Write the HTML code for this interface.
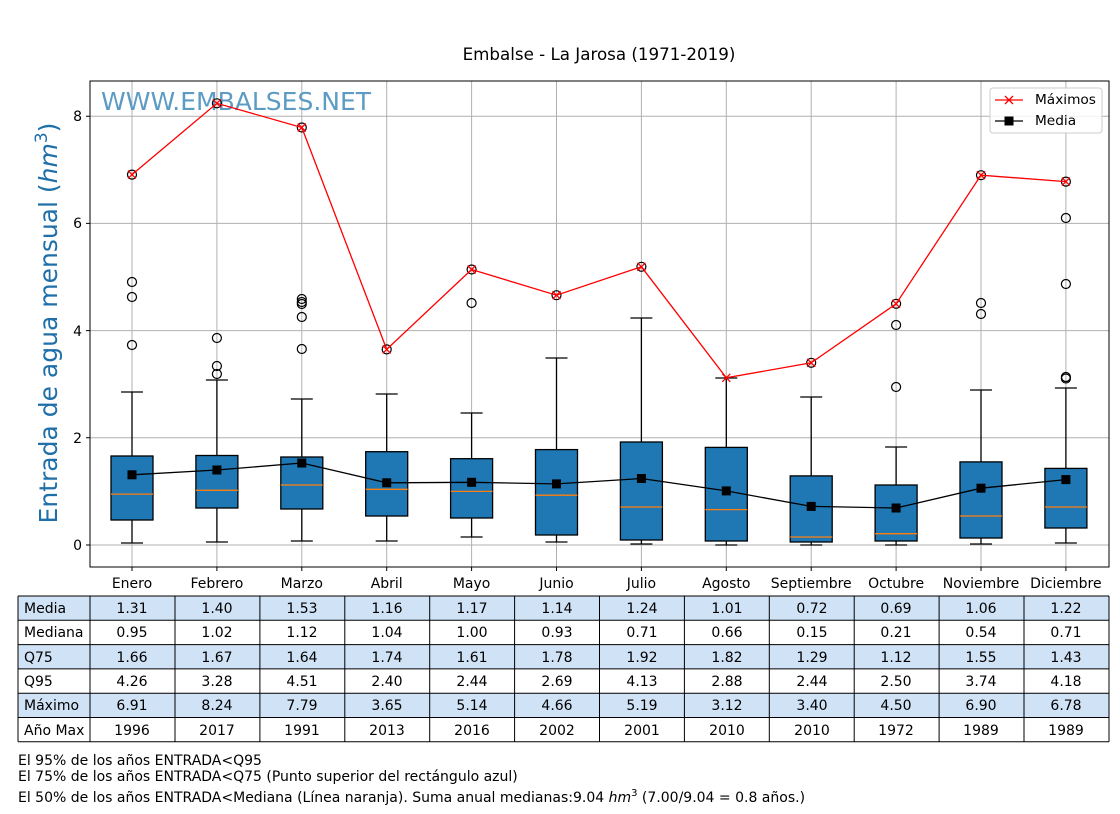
<!DOCTYPE html>
<html><head><meta charset="utf-8"><style>
body{margin:0;background:#fff;font-family:"DejaVu Sans","Liberation Sans",sans-serif;}
svg text{font-family:"DejaVu Sans","Liberation Sans",sans-serif;}
</style></head><body>
<svg width="1120" height="810" xmlns="http://www.w3.org/2000/svg">
<rect width="1120" height="810" fill="#fff"/>
<text x="599" y="60" font-size="16.7" text-anchor="middle">Embalse - La Jarosa (1971-2019)</text>
<g stroke="#b0b0b0" stroke-width="1">
<line x1="90" x2="1109" y1="545" y2="545"/><line x1="90" x2="1109" y1="437.8" y2="437.8"/><line x1="90" x2="1109" y1="330.6" y2="330.6"/><line x1="90" x2="1109" y1="223.4" y2="223.4"/><line x1="90" x2="1109" y1="116.2" y2="116.2"/>
<line x1="132" x2="132" y1="81" y2="567"/><line x1="216.9" x2="216.9" y1="81" y2="567"/><line x1="301.8" x2="301.8" y1="81" y2="567"/><line x1="386.7" x2="386.7" y1="81" y2="567"/><line x1="471.6" x2="471.6" y1="81" y2="567"/><line x1="556.5" x2="556.5" y1="81" y2="567"/><line x1="641.4" x2="641.4" y1="81" y2="567"/><line x1="726.3" x2="726.3" y1="81" y2="567"/><line x1="811.2" x2="811.2" y1="81" y2="567"/><line x1="896.1" x2="896.1" y1="81" y2="567"/><line x1="981" x2="981" y1="81" y2="567"/><line x1="1065.9" x2="1065.9" y1="81" y2="567"/>
</g>
<text x="101" y="110" font-size="25" fill="#5b9bc4">WWW.EMBALSES.NET</text>
<g stroke="#000" stroke-width="1.3" fill="none">
<path d="M132 392V456M132 520V543M121 392H143M121 543H143"/>
<path d="M216.9 380V455.5M216.9 508V542M205.9 380H227.9M205.9 542H227.9"/>
<path d="M301.8 399V457M301.8 509V541M290.8 399H312.8M290.8 541H312.8"/>
<path d="M386.7 394V451.7M386.7 516V541M375.7 394H397.7M375.7 541H397.7"/>
<path d="M471.6 413V458.7M471.6 518V537M460.6 413H482.6M460.6 537H482.6"/>
<path d="M556.5 358V449.6M556.5 535V542M545.5 358H567.5M545.5 542H567.5"/>
<path d="M641.4 318V442M641.4 540V544M630.4 318H652.4M630.4 544H652.4"/>
<path d="M726.3 378V447.4M726.3 541V545M715.3 378H737.3M715.3 545H737.3"/>
<path d="M811.2 397V475.9M811.2 542V545M800.2 397H822.2M800.2 545H822.2"/>
<path d="M896.1 447V485M896.1 541V545M885.1 447H907.1M885.1 545H907.1"/>
<path d="M981 390V461.9M981 538V544M970 390H992M970 544H992"/>
<path d="M1065.9 388V468.4M1065.9 528V543M1054.9 388H1076.9M1054.9 543H1076.9"/>
</g>
<g fill="#1f77b4" stroke="#000" stroke-width="1.3">
<rect x="111" y="456" width="42" height="64"/>
<rect x="195.9" y="455.5" width="42" height="52.5"/>
<rect x="280.8" y="457" width="42" height="52"/>
<rect x="365.7" y="451.7" width="42" height="64.3"/>
<rect x="450.6" y="458.7" width="42" height="59.3"/>
<rect x="535.5" y="449.6" width="42" height="85.4"/>
<rect x="620.4" y="442" width="42" height="98"/>
<rect x="705.3" y="447.4" width="42" height="93.6"/>
<rect x="790.2" y="475.9" width="42" height="66.1"/>
<rect x="875.1" y="485" width="42" height="56"/>
<rect x="960" y="461.9" width="42" height="76.1"/>
<rect x="1044.9" y="468.4" width="42" height="59.6"/>
</g>
<g stroke="#ff7f0e" stroke-width="1.3">
<path d="M111 494.1H153M195.9 490.3H237.9M280.8 485H322.8M365.7 489.3H407.7M450.6 491.4H492.6M535.5 495.2H577.5M620.4 507H662.4M705.3 509.6H747.3M790.2 537H832.2M875.1 533.7H917.1M960 516H1002M1044.9 507H1086.9"/>
</g>
<g fill="none" stroke="#000" stroke-width="1.2">
<circle cx="132" cy="282" r="4.5"/><circle cx="132" cy="297" r="4.5"/><circle cx="132" cy="345" r="4.5"/><circle cx="132" cy="174.6" r="4.5"/>
<circle cx="216.9" cy="338" r="4.5"/><circle cx="216.9" cy="366" r="4.5"/><circle cx="216.9" cy="374" r="4.5"/><circle cx="216.9" cy="103.3" r="4.5"/>
<circle cx="301.8" cy="299" r="4.5"/><circle cx="301.8" cy="302" r="4.5"/><circle cx="301.8" cy="304" r="4.5"/><circle cx="301.8" cy="317" r="4.5"/><circle cx="301.8" cy="349" r="4.5"/><circle cx="301.8" cy="127.5" r="4.5"/>
<circle cx="386.7" cy="349.4" r="4.5"/>
<circle cx="471.6" cy="303" r="4.5"/><circle cx="471.6" cy="269.5" r="4.5"/>
<circle cx="556.5" cy="295.2" r="4.5"/><circle cx="641.4" cy="266.8" r="4.5"/><circle cx="811.2" cy="362.8" r="4.5"/>
<circle cx="896.1" cy="325" r="4.5"/><circle cx="896.1" cy="387" r="4.5"/><circle cx="896.1" cy="303.8" r="4.5"/>
<circle cx="981" cy="303" r="4.5"/><circle cx="981" cy="314" r="4.5"/><circle cx="981" cy="175.2" r="4.5"/>
<circle cx="1065.9" cy="218" r="4.5"/><circle cx="1065.9" cy="284" r="4.5"/><circle cx="1065.9" cy="377" r="4.5"/><circle cx="1065.9" cy="378.5" r="4.5"/><circle cx="1065.9" cy="181.6" r="4.5"/>
</g>
<polyline fill="none" stroke="#f00" stroke-width="1.3" points="132,174.6 216.9,103.3 301.8,127.5 386.7,349.4 471.6,269.5 556.5,295.2 641.4,266.8 726.3,377.8 811.2,362.8 896.1,303.8 981,175.2 1065.9,181.6"/>
<g stroke="#f00" stroke-width="1.3">
<path d="M128 170.6l8 8m0-8l-8 8M212.9 99.3l8 8m0-8l-8 8M297.8 123.5l8 8m0-8l-8 8M382.7 345.4l8 8m0-8l-8 8M467.6 265.5l8 8m0-8l-8 8M552.5 291.2l8 8m0-8l-8 8M637.4 262.8l8 8m0-8l-8 8M722.3 373.8l8 8m0-8l-8 8M807.2 358.8l8 8m0-8l-8 8M892.1 299.8l8 8m0-8l-8 8M977 171.2l8 8m0-8l-8 8M1061.9 177.6l8 8m0-8l-8 8"/>
</g>
<polyline fill="none" stroke="#000" stroke-width="1.3" points="132,474.8 216.9,470 301.8,463 386.7,482.8 471.6,482.3 556.5,483.9 641.4,478.5 726.3,490.9 811.2,506.4 896.1,508 981,488.2 1065.9,479.6"/>
<g fill="#000">
<rect x="127.5" y="470.3" width="9" height="9"/><rect x="212.4" y="465.5" width="9" height="9"/><rect x="297.3" y="458.5" width="9" height="9"/><rect x="382.2" y="478.3" width="9" height="9"/><rect x="467.1" y="477.8" width="9" height="9"/><rect x="552" y="479.4" width="9" height="9"/><rect x="636.9" y="474" width="9" height="9"/><rect x="721.8" y="486.4" width="9" height="9"/><rect x="806.7" y="501.9" width="9" height="9"/><rect x="891.6" y="503.5" width="9" height="9"/><rect x="976.5" y="483.7" width="9" height="9"/><rect x="1061.4" y="475.1" width="9" height="9"/>
</g>
<rect x="90" y="81" width="1019" height="486" fill="none" stroke="#000" stroke-width="1"/>
<g stroke="#000"><path d="M86 545H90M86 437.8H90M86 330.6H90M86 223.4H90M86 116.2H90"/>
<path d="M132 567v4M216.9 567v4M301.8 567v4M386.7 567v4M471.6 567v4M556.5 567v4M641.4 567v4M726.3 567v4M811.2 567v4M896.1 567v4M981 567v4M1065.9 567v4"/></g>
<g font-size="14" text-anchor="end"><text x="82" y="550">0</text><text x="82" y="443">2</text><text x="82" y="336">4</text><text x="82" y="228">6</text><text x="82" y="121">8</text></g>
<g font-size="14" text-anchor="middle"><text x="132" y="588">Enero</text><text x="216.9" y="588">Febrero</text><text x="301.8" y="588">Marzo</text><text x="386.7" y="588">Abril</text><text x="471.6" y="588">Mayo</text><text x="556.5" y="588">Junio</text><text x="641.4" y="588">Julio</text><text x="726.3" y="588">Agosto</text><text x="811.2" y="588">Septiembre</text><text x="896.1" y="588">Octubre</text><text x="981" y="588">Noviembre</text><text x="1065.9" y="588">Diciembre</text></g>
<text transform="translate(57,323) rotate(-90)" font-size="25" fill="#1f6fa8" text-anchor="middle">Entrada de agua mensual (<tspan font-style="italic">hm</tspan><tspan font-size="17" dy="-10">3</tspan><tspan dy="10">)</tspan></text>
<rect x="990" y="88" width="112" height="45" rx="3" fill="#fff" fill-opacity="0.85" stroke="#ccc"/>
<path d="M995 100H1023" stroke="#f00" stroke-width="1.3"/><path d="M1005 96l8 8m0-8l-8 8" stroke="#f00" stroke-width="1.3"/>
<path d="M995 121H1023" stroke="#000" stroke-width="1.3"/><rect x="1004.5" y="116.5" width="9" height="9"/>
<text x="1035" y="104" font-size="13.7">Máximos</text><text x="1035" y="125" font-size="13.7">Media</text>
<g>
<rect x="18" y="596" width="1091" height="24.3" fill="#d0e2f5"/>
<rect x="18" y="644.6" width="1091" height="24.3" fill="#d0e2f5"/>
<rect x="18" y="693.2" width="1091" height="24.3" fill="#d0e2f5"/>
</g>
<g stroke="#000" stroke-width="1">
<path d="M18 596H1109M18 620.3H1109M18 644.6H1109M18 668.9H1109M18 693.2H1109M18 717.5H1109M18 741.8H1109"/>
<path d="M18 596V741.8M90 596V741.8M175 596V741.8M259.9 596V741.8M344.8 596V741.8M429.7 596V741.8M514.6 596V741.8M599.5 596V741.8M684.4 596V741.8M769.3 596V741.8M854.2 596V741.8M939.1 596V741.8M1024 596V741.8M1109 596V741.8"/>
</g>
<g font-size="14">
<text x="24" y="613">Media</text><text x="24" y="637">Mediana</text><text x="24" y="662">Q75</text><text x="24" y="686">Q95</text><text x="24" y="710">Máximo</text><text x="24" y="735">Año Max</text>
</g>
<g font-size="14" text-anchor="middle">
<text y="613"><tspan x="132">1.31</tspan><tspan x="217">1.40</tspan><tspan x="302">1.53</tspan><tspan x="387">1.16</tspan><tspan x="472">1.17</tspan><tspan x="557">1.14</tspan><tspan x="642">1.24</tspan><tspan x="727">1.01</tspan><tspan x="812">0.72</tspan><tspan x="896">0.69</tspan><tspan x="981">1.06</tspan><tspan x="1066">1.22</tspan></text>
<text y="637"><tspan x="132">0.95</tspan><tspan x="217">1.02</tspan><tspan x="302">1.12</tspan><tspan x="387">1.04</tspan><tspan x="472">1.00</tspan><tspan x="557">0.93</tspan><tspan x="642">0.71</tspan><tspan x="727">0.66</tspan><tspan x="812">0.15</tspan><tspan x="896">0.21</tspan><tspan x="981">0.54</tspan><tspan x="1066">0.71</tspan></text>
<text y="662"><tspan x="132">1.66</tspan><tspan x="217">1.67</tspan><tspan x="302">1.64</tspan><tspan x="387">1.74</tspan><tspan x="472">1.61</tspan><tspan x="557">1.78</tspan><tspan x="642">1.92</tspan><tspan x="727">1.82</tspan><tspan x="812">1.29</tspan><tspan x="896">1.12</tspan><tspan x="981">1.55</tspan><tspan x="1066">1.43</tspan></text>
<text y="686"><tspan x="132">4.26</tspan><tspan x="217">3.28</tspan><tspan x="302">4.51</tspan><tspan x="387">2.40</tspan><tspan x="472">2.44</tspan><tspan x="557">2.69</tspan><tspan x="642">4.13</tspan><tspan x="727">2.88</tspan><tspan x="812">2.44</tspan><tspan x="896">2.50</tspan><tspan x="981">3.74</tspan><tspan x="1066">4.18</tspan></text>
<text y="710"><tspan x="132">6.91</tspan><tspan x="217">8.24</tspan><tspan x="302">7.79</tspan><tspan x="387">3.65</tspan><tspan x="472">5.14</tspan><tspan x="557">4.66</tspan><tspan x="642">5.19</tspan><tspan x="727">3.12</tspan><tspan x="812">3.40</tspan><tspan x="896">4.50</tspan><tspan x="981">6.90</tspan><tspan x="1066">6.78</tspan></text>
<text y="735"><tspan x="132">1996</tspan><tspan x="217">2017</tspan><tspan x="302">1991</tspan><tspan x="387">2013</tspan><tspan x="472">2016</tspan><tspan x="557">2002</tspan><tspan x="642">2001</tspan><tspan x="727">2010</tspan><tspan x="812">2010</tspan><tspan x="896">1972</tspan><tspan x="981">1989</tspan><tspan x="1066">1989</tspan></text>
</g>
<g font-size="14">
<text x="18" y="765">El 95% de los años ENTRADA&lt;Q95</text>
<text x="18" y="781">El 75% de los años ENTRADA&lt;Q75 (Punto superior del rectángulo azul)</text>
<text x="18" y="802">El 50% de los años ENTRADA&lt;Mediana (Línea naranja). Suma anual medianas:9.04 <tspan font-style="italic">hm</tspan><tspan font-size="10" dy="-6">3</tspan><tspan dy="6"> (7.00/9.04 = 0.8 años.)</tspan></text>
</g>
</svg>
</body></html>
